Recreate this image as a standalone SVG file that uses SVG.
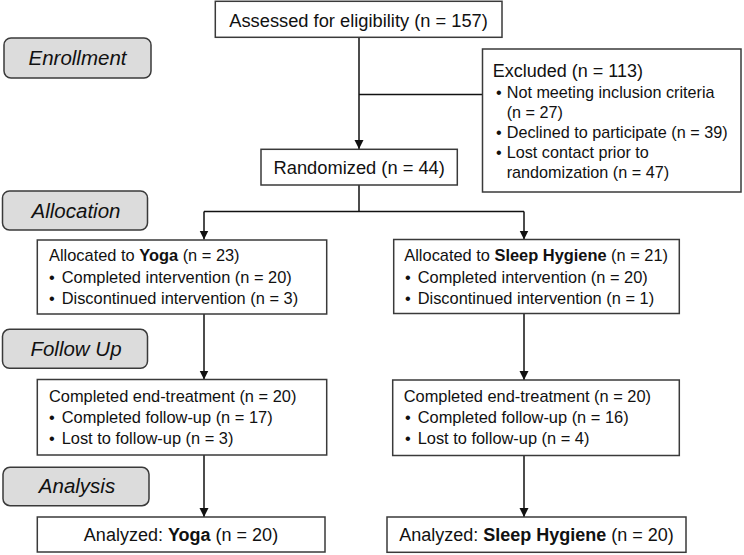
<svg xmlns="http://www.w3.org/2000/svg" width="744" height="555" viewBox="0 0 744 555">
<defs>
<style>
.box{fill:#fff;stroke:#3a3a3a;stroke-width:1.5}
.lbl{fill:#dcdcdc;stroke:#3a3a3a;stroke-width:1.5}
.t{font-family:"Liberation Sans",Arial,sans-serif;fill:#111}
.big{font-size:18.3px}
.mid{font-size:16.4px}
.sm{font-size:16.2px}
.it{font-family:"Liberation Sans",Arial,sans-serif;font-style:italic;font-size:20.5px;fill:#111}
.b{font-weight:bold}
.c{fill:none;stroke:#111;stroke-width:1.5}
</style>
<marker id="ah" markerUnits="userSpaceOnUse" markerWidth="10" markerHeight="10" refX="9" refY="4.5" orient="auto">
<path d="M0,0 L9,4.5 L0,9 z" fill="#111"/>
</marker>
</defs>

<g id="connectors">
<line class="c" x1="359" y1="37" x2="359" y2="149" marker-end="url(#ah)"/>
<line class="c" x1="359" y1="94.5" x2="482" y2="94.5"/>
<polyline class="c" points="359,185 359,211.5"/>
<polyline class="c" points="204,211.5 524,211.5"/>
<line class="c" x1="204" y1="211.5" x2="204" y2="239.5" marker-end="url(#ah)"/>
<line class="c" x1="524" y1="211.5" x2="524" y2="239.5" marker-end="url(#ah)"/>
<line class="c" x1="204" y1="314" x2="204" y2="379.5" marker-end="url(#ah)"/>
<line class="c" x1="524" y1="313.5" x2="524" y2="380" marker-end="url(#ah)"/>
<line class="c" x1="204" y1="455" x2="204" y2="517" marker-end="url(#ah)"/>
<line class="c" x1="524" y1="455.5" x2="524" y2="517" marker-end="url(#ah)"/>
</g>

<g id="enrollment">
<rect class="lbl" x="4" y="38" width="147" height="40" rx="7"/>
<text class="it" x="77.5" y="65" text-anchor="middle">Enrollment</text>
</g>
<g id="allocation">
<rect class="lbl" x="2.5" y="191" width="145" height="39" rx="7"/>
<text class="it" x="76" y="217.7" text-anchor="middle">Allocation</text>
</g>
<g id="followup">
<rect class="lbl" x="2.5" y="329.3" width="145" height="39" rx="7"/>
<text class="it" x="76" y="355.7" text-anchor="middle">Follow Up</text>
</g>
<g id="analysis">
<rect class="lbl" x="3" y="467.3" width="146" height="38.4" rx="7"/>
<text class="it" x="77" y="493.3" text-anchor="middle">Analysis</text>
</g>

<g id="assessed">
<rect class="box" x="215.3" y="1.3" width="286.7" height="36"/>
<text class="t big" x="358.6" y="26.5" text-anchor="middle">Assessed for eligibility (n = 157)</text>
</g>

<g id="excluded">
<rect class="box" x="482.5" y="49" width="258.5" height="143"/>
<text class="t" x="492.7" y="77" style="font-size:18px">Excluded (n = 113)</text>
<text class="t sm" y="98"><tspan x="496">•</tspan><tspan x="506.7">Not meeting inclusion criteria</tspan></text>
<text class="t sm" x="506.7" y="118">(n = 27)</text>
<text class="t sm" y="138.3"><tspan x="496">•</tspan><tspan x="506.7">Declined to participate (n = 39)</tspan></text>
<text class="t sm" y="158.3"><tspan x="496">•</tspan><tspan x="506.7">Lost contact prior to</tspan></text>
<text class="t sm" x="506.7" y="178.3">randomization (n = 47)</text>
</g>

<g id="randomized">
<rect class="box" x="261" y="149.3" width="196.3" height="35.7"/>
<text class="t big" x="359.2" y="174" text-anchor="middle">Randomized (n = 44)</text>
</g>

<g id="alloc-yoga">
<rect class="box" x="37.3" y="240" width="289.4" height="74"/>
<text class="t mid" x="49" y="261">Allocated to <tspan class="b">Yoga</tspan> (n = 23)</text>
<text class="t mid" y="282.6"><tspan x="49">•</tspan><tspan x="61.7">Completed intervention (n = 20)</tspan></text>
<text class="t mid" y="304"><tspan x="49">•</tspan><tspan x="61.7">Discontinued intervention (n = 3)</tspan></text>
</g>

<g id="alloc-sleep">
<rect class="box" x="393.7" y="239.5" width="285.6" height="74"/>
<text class="t mid" x="404.3" y="261.3">Allocated to <tspan class="b">Sleep Hygiene</tspan> (n = 21)</text>
<text class="t mid" y="282.8"><tspan x="405">•</tspan><tspan x="417.7">Completed intervention (n = 20)</tspan></text>
<text class="t mid" y="304.2"><tspan x="405">•</tspan><tspan x="417.7">Discontinued intervention (n = 1)</tspan></text>
</g>

<g id="followup-yoga">
<rect class="box" x="37.3" y="379.5" width="289.4" height="75.5"/>
<text class="t mid" x="49" y="401.7">Completed end-treatment (n = 20)</text>
<text class="t mid" y="422.8"><tspan x="49">•</tspan><tspan x="61.7">Completed follow-up (n = 17)</tspan></text>
<text class="t mid" y="444"><tspan x="49">•</tspan><tspan x="61.7">Lost to follow-up (n = 3)</tspan></text>
</g>

<g id="followup-sleep">
<rect class="box" x="392.7" y="380" width="286.6" height="75.5"/>
<text class="t mid" x="403.7" y="401.7">Completed end-treatment (n = 20)</text>
<text class="t mid" y="422.8"><tspan x="405">•</tspan><tspan x="417.7">Completed follow-up (n = 16)</tspan></text>
<text class="t mid" y="444"><tspan x="405">•</tspan><tspan x="417.7">Lost to follow-up (n = 4)</tspan></text>
</g>

<g id="analyzed-yoga">
<rect class="box" x="37.3" y="517" width="287.7" height="35"/>
<text class="t" x="181" y="541" text-anchor="middle" style="font-size:18px">Analyzed: <tspan class="b">Yoga</tspan> (n = 20)</text>
</g>

<g id="analyzed-sleep">
<rect class="box" x="387" y="517" width="299" height="35.3"/>
<text class="t" x="536.5" y="541" text-anchor="middle" style="font-size:18px">Analyzed: <tspan class="b">Sleep Hygiene</tspan> (n = 20)</text>
</g>
</svg>
